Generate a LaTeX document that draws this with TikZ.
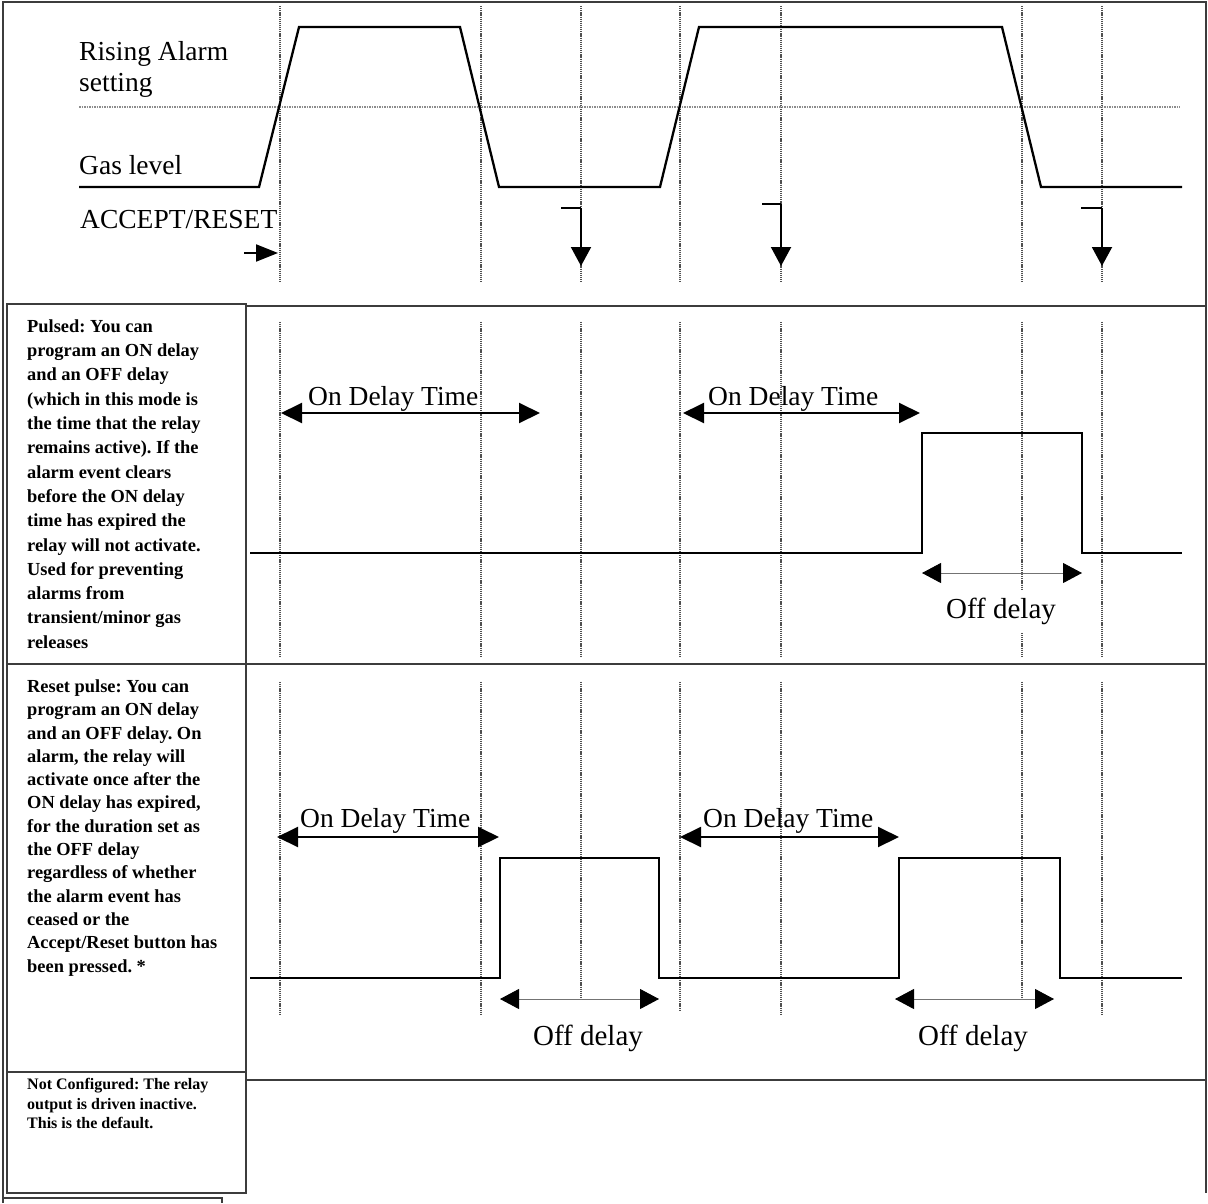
\documentclass[tikz,border=0pt]{standalone}
\usepackage{fontspec}
\setmainfont{Liberation Serif}
\usepackage{tikz}
\usetikzlibrary{arrows.meta}
\frenchspacing
\definecolor{frameg}{RGB}{60,60,60}
\definecolor{gridg}{RGB}{80,80,80}
\tikzset{
  frame/.style={draw=frameg, line width=1.6pt},
  grid/.style={gridg, line width=1.6pt, dash pattern=on 1.2pt off 0.9pt},
  thresh/.style={black!45, line width=1.8pt, dash pattern=on 1.5pt off 1pt},
  wave/.style={black, line width=2.3pt, line join=miter},
  sig/.style={black, line width=2pt},
  arr/.style={{Triangle[length=21pt,width=20pt]}-{Triangle[length=21pt,width=20pt]}, line width=2pt},
  arrd/.style={{Triangle[length=19pt,width=20pt,black]}-{Triangle[length=19pt,width=20pt,black]}, black!55, line width=0.9pt},
  trig/.style={-{Triangle[length=19pt,width=20pt]}, line width=2pt},
  lbl/.style={font=\fontsize{27.5}{31}\selectfont, inner sep=0pt},
  offlbl/.style={font=\fontsize{29}{32}\selectfont, inner sep=0pt, anchor=base},
  desc/.style={font=\bfseries\fontsize{18.4}{23.6}\selectfont, align=left, inner sep=0pt, anchor=north west},
}
\begin{document}
\begin{tikzpicture}[x=1pt,y=-1pt]
  \useasboundingbox (0,0) rectangle (1208,1203);
  \draw[frame] (3,1203) -- (3,2) -- (1206,2) -- (1206,1193);
  \draw[frame] (7,304) rectangle (246,664);
  \draw[frame] (7,664) rectangle (246,1072);
  \draw[frame] (7,1072) rectangle (246,1193);
  \draw[frame] (246,306) -- (1206,306);
  \draw[frame] (246,664) -- (1206,664);
  \draw[frame] (246,1080) -- (1206,1080);
  \draw[frame] (3,1198) -- (222,1198) -- (222,1203);

  \foreach \x in {280,481,581,680,781,1022,1102} {
    \draw[grid] (\x,6) -- (\x,283);
    \draw[grid] (\x,322) -- (\x,657);
  }
  \foreach \x/\e in {280/1015,481/1015,581/999,680/1010,781/1015,1022/999,1102/1015}
    \draw[grid] (\x,682) -- (\x,\e);
  \draw[thresh] (79,107) -- (1180,107);

  \draw[wave] (79,187) -- (259,187) -- (299,27) -- (460,27) -- (499,187) -- (660,187)
    -- (699,27) -- (1002,27) -- (1041,187) -- (1182,187);
  \node[lbl, anchor=north west, align=left] (rising) at (79,41.2) {Rising Alarm\\setting};
  \node[lbl, anchor=base west] (gas) at (79,174) {Gas level};
  \node[lbl, anchor=base west] (accept) at (80,228) {ACCEPT/RESET};
  \draw[-{Triangle[length=22pt,width=17pt]}, line width=2pt] (244,253) -- (278,253);
  \foreach \x/\s/\t in {581/561/208,781/762/204,1102/1081/208} {
    \draw[line width=1.5pt] (\s,\t) -- (\x,\t);
    \draw[trig] (\x,\t) -- (\x,266);
  }

  \node[desc, font=\bfseries\fontsize{18.4}{24.3}\selectfont] (pulsed) at (27,319.4) {Pulsed: You can\\program an ON delay\\and an OFF delay\\(which in this mode is\\the time that the relay\\remains active). If the\\alarm event clears\\before the ON delay\\time has expired the\\relay will not activate.\\Used for preventing\\alarms from\\transient/minor gas\\releases};
  \draw[sig] (250,553) -- (922,553) -- (922,433) -- (1082,433) -- (1082,553) -- (1182,553);
  \draw[arr] (281,413) -- (540,413);
  \draw[arr] (683,413) -- (920,413);
  \node[lbl, anchor=base west] (on1) at (308,405) {On Delay Time};
  \node[lbl, anchor=base west] (on2) at (708,405) {On Delay Time};
  \draw[arrd] (922,573) -- (1082,573);
  \node[offlbl, fill=white, inner ysep=8pt] (off1) at (1001,618) {Off delay};

  \node[desc, font=\bfseries\fontsize{18.4}{23.3}\selectfont] (reset) at (27,679.5) {Reset pulse: You can\\program an ON delay\\and an OFF delay. On\\alarm, the relay will\\activate once after the\\ON delay has expired,\\for the duration set as\\the OFF delay\\regardless of whether\\the alarm event has\\ceased or the\\Accept/Reset button has\\been pressed. *};
  \draw[sig] (250,978) -- (500,978) -- (500,858) -- (659,858) -- (659,978) -- (899,978)
    -- (899,858) -- (1060,858) -- (1060,978) -- (1182,978);
  \draw[arr] (277,837) -- (499,837);
  \draw[arr] (680,837) -- (899,837);
  \node[lbl, anchor=base west] (on3) at (300,827) {On Delay Time};
  \node[lbl, anchor=base west] (on4) at (703,827) {On Delay Time};
  \draw[arrd] (500,999) -- (659,999);
  \draw[arrd] (895,999) -- (1054,999);
  \node[offlbl] (off2) at (588,1045) {Off delay};
  \node[offlbl] (off3) at (973,1045) {Off delay};

  \node[desc, font=\bfseries\fontsize{16}{19.6}\selectfont] (notconf) at (27,1078) {Not Configured: The relay\\output is driven inactive.\\This is the default.};
\end{tikzpicture}
\end{document}
